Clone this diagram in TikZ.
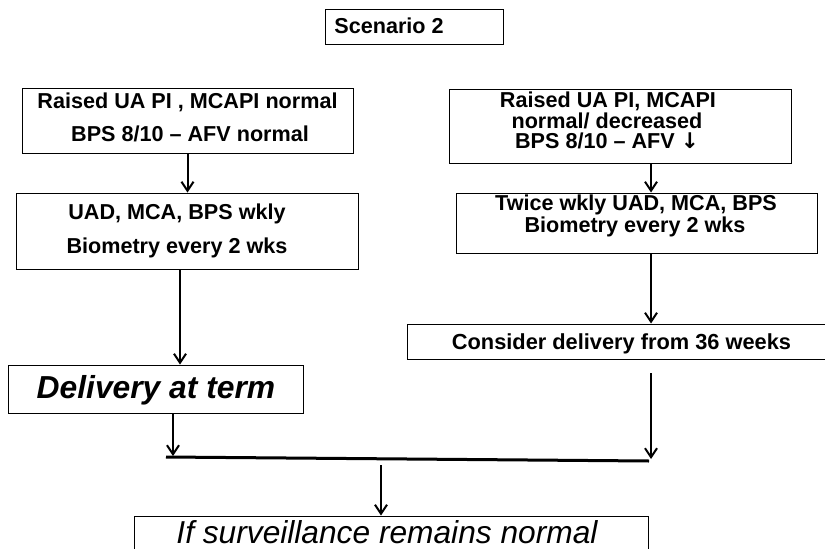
\documentclass[tikz,border=0pt]{standalone}
\usepackage{fontspec}
\setmainfont{Liberation Sans}
\newfontfamily\djv{DejaVu Sans}
\usetikzlibrary{arrows.meta,calc}
\begin{document}
\begin{tikzpicture}[x=1pt,y=-1pt,
  box/.style={draw=black,line width=1pt,fill=white,inner sep=0pt},
  txt/.style={anchor=base,inner sep=0pt,text=black,font={\fontsize{21.6}{24}\selectfont\bfseries}},
  arr/.style={draw=black,line width=2pt,-{Straight Barb[length=9pt,width=12pt,line width=2pt]}},
  bar/.style={draw=black,line width=3pt}]
\useasboundingbox (0,0) rectangle (825,549);
\fill[white] (0,0) rectangle (825,549);
% boxes
\node[box,minimum width=178pt,minimum height=35pt] (S) at (414,26.5) {};
\node[box,minimum width=331pt,minimum height=65pt] (A1) at (187.5,120.5) {};
\node[box,minimum width=342pt,minimum height=76pt] (A2) at (187,231) {};
\node[box,minimum width=342pt,minimum height=74pt] (B1) at (620,126) {};
\node[box,minimum width=361pt,minimum height=60pt] (B2) at (637,223) {};
\node[box,minimum width=429pt,minimum height=35pt] (C) at (621.5,341.5) {};
\node[box,minimum width=295pt,minimum height=48pt] (D) at (155.5,389) {};
\node[box,minimum width=514pt,minimum height=54pt] (E) at (391,543) {};
% texts
\node[txt] (St) at (389,33) {Scenario 2};
\node[txt] (A1a) at (187.5,108) {Raised UA PI , MCAPI normal};
\node[txt] (A1b) at (190,141) {BPS 8/10 -- AFV normal};
\node[txt] (A2a) at (177,219) {UAD, MCA, BPS wkly};
\node[txt] (A2b) at (177,253) {Biometry every 2 wks};
\node[txt] (B1a) at (608,107) {Raised UA PI, MCAPI};
\node[txt] (B1b) at (607,128) {normal/ decreased};
\node[txt] (B1c) at (607,148) {BPS 8/10 -- AFV {\djv\bfseries ↓}};
\node[txt] (B2a) at (636,210) {Twice wkly UAD, MCA, BPS};
\node[txt] (B2b) at (635,232) {Biometry every 2 wks};
\node[txt,font={\fontsize{21.8}{24}\selectfont\bfseries}] (Ct) at (621.5,349) {Consider delivery from 36 weeks};
\node[txt,font={\fontsize{31.8}{34}\selectfont\bfseries\itshape}] (Dt) at (156,398) {Delivery at term};
\node[txt,font={\fontsize{31.7}{34}\selectfont\itshape}] (Et) at (387,543) {If surveillance remains normal};
% coordinates
\coordinate (xa) at (180,0);
\coordinate (xd) at (173,0);
\coordinate (xb) at (651,0);
\coordinate (xm) at (381,0);
\coordinate (L1) at (166,457);
\coordinate (L2) at (649,461);
\coordinate (tL) at (173,456);
\coordinate (tR) at (651,459);
\coordinate (cs) at (651,373);
\coordinate (ms) at (381,465);
% connectors
\draw[arr] (A1.south) -- (A1.south |- A2.north);
\draw[arr] (A2.south -| xa) -- (D.north -| xa);
\draw[arr] (D.south -| xd) -- (tL);
\draw[arr] (B1.south -| xb) -- (B2.north -| xb);
\draw[arr] (B2.south -| xb) -- (C.north -| xb);
\draw[arr] (cs) -- (tR);
\draw[bar] (L1) -- (L2);
\draw[arr] (ms) -- (E.north -| xm);
\end{tikzpicture}
\end{document}
